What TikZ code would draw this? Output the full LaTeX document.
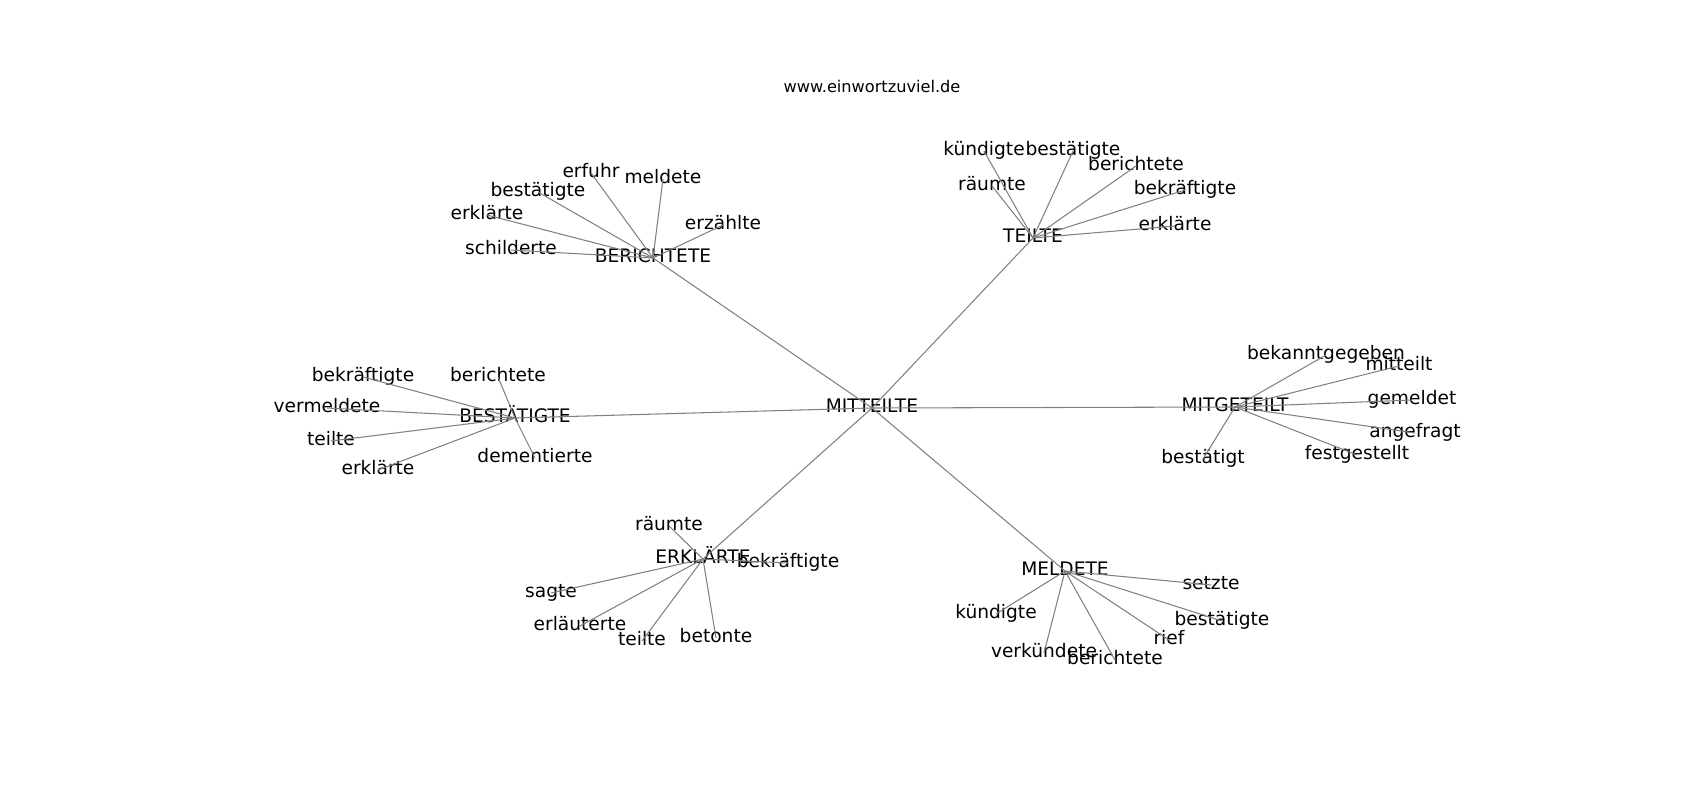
\documentclass[tikz,border=0pt]{standalone}
\usepackage{fontspec}
\setmainfont{DejaVu Sans}
\usetikzlibrary{positioning}
\tikzstyle{every node}=[anchor=center]
\tikzstyle{word}=[inner sep=0pt,font=\fontsize{10.6}{12}\selectfont,text height=0.76em,text depth=0.24em]
\tikzstyle{title}=[inner sep=0pt,font=\fontsize{9.2}{11}\selectfont]
\tikzstyle{link}=[draw=gray,line width=0.6pt]

\begin{document}
\begin{tikzpicture}[x=0.02cm,y=-0.02cm]
  \useasboundingbox (0,-3) rectangle (1700,797);
  \node [title] (site) at (872,83) {www.einwortzuviel.de};
  % centre and hubs
  \node [word] (mitteilte) at (872,405) {MITTEILTE};
  \node [word] (berichtete) at (653,255) {BERICHTETE};
  \node [word] (teilte) at (1033,235) {TEILTE};
  \node [word] (mitgeteilt) at (1235,404) {MITGETEILT};
  \node [word] (bestaetigte) at (515,415) {BESTÄTIGTE};
  \node [word] (erklaerte) at (703,556) {ERKLÄRTE};
  \node [word] (meldete) at (1065,568) {MELDETE};
  % leaves
  \foreach \n/\x/\y/\t in {ber1/591/170/erfuhr, ber2/663/176/meldete,
      ber3/538/189/bestätigte, ber4/487/212/erklärte,
      ber5/511/247/schilderte, ber6/723/222/erzählte}
    \node [word] (\n) at (\x,\y) {\t};
  \foreach \n/\x/\y/\t in {tei1/984/148/kündigte, tei2/1073/148/bestätigte,
      tei3/992/183/räumte, tei4/1136/163/berichtete,
      tei5/1185/187/bekräftigte, tei6/1175/223/erklärte}
    \node [word] (\n) at (\x,\y) {\t};
  \foreach \n/\x/\y/\t in {mit1/1326/352/bekanntgegeben, mit2/1399/363/mitteilt,
      mit3/1412/397/gemeldet, mit4/1415/430/angefragt,
      mit5/1357/452/festgestellt, mit6/1203/456/bestätigt}
    \node [word] (\n) at (\x,\y) {\t};
  \foreach \n/\x/\y/\t in {bes1/363/374/bekräftigte, bes2/498/374/berichtete,
      bes3/327/405/vermeldete, bes4/331/438/teilte,
      bes5/378/467/erklärte, bes6/535/455/dementierte}
    \node [word] (\n) at (\x,\y) {\t};
  \foreach \n/\x/\y/\t in {erk1/669/523/räumte, erk2/788/560/bekräftigte,
      erk3/551/590/sagte, erk4/580/623/erläuterte,
      erk5/642/638/teilte, erk6/716/635/betonte}
    \node [word] (\n) at (\x,\y) {\t};
  \foreach \n/\x/\y/\t in {mel1/1211/582/setzte, mel2/996/611/kündigte,
      mel3/1222/618/bestätigte, mel4/1169/637/rief,
      mel5/1044/650/verkündete, mel6/1115/657/berichtete}
    \node [word] (\n) at (\x,\y) {\t};
  % edges
  \foreach \h in {berichtete,teilte,mitgeteilt,bestaetigte,erklaerte,meldete}
    \draw [link] (mitteilte.center) -- (\h.center);
  \foreach \h/\p in {berichtete/ber,teilte/tei,mitgeteilt/mit,bestaetigte/bes,erklaerte/erk,meldete/mel}
    \foreach \i in {1,...,6}
      \draw [link] (\h.center) -- (\p\i.center);
\end{tikzpicture}
\end{document}
